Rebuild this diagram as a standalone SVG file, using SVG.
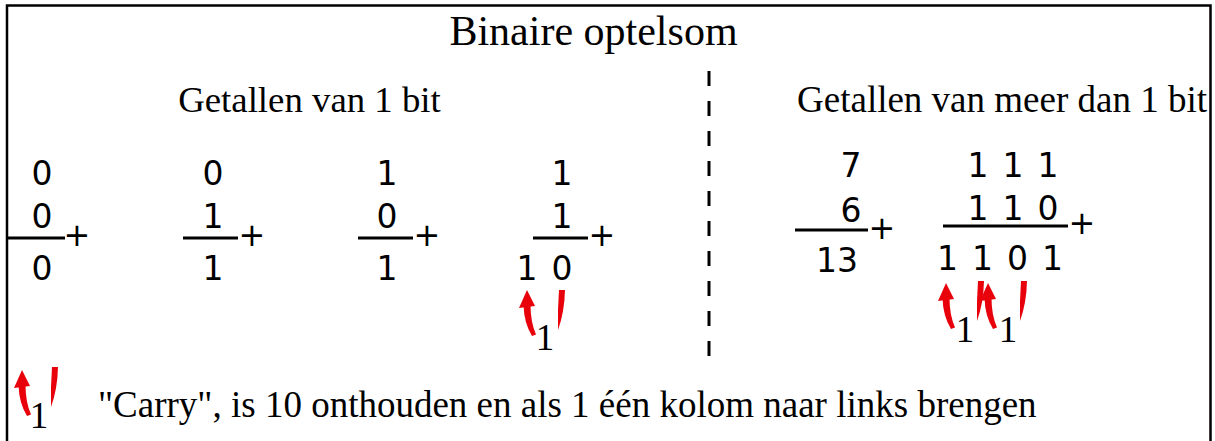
<svg xmlns="http://www.w3.org/2000/svg" width="1215" height="441" viewBox="0 0 1215 441">
<style>
.serif{font-family:"Liberation Serif","Times New Roman",serif;fill:#000}
.d{font-family:"DejaVu Sans",Verdana,sans-serif;font-size:33px;fill:#000;text-anchor:middle}
.ds{word-spacing:3.5px}
.p{font-family:"DejaVu Sans",Verdana,sans-serif;font-size:32px;fill:#000;text-anchor:middle}
.bar{stroke:#000;stroke-width:3;fill:none}
.red{fill:#e8000b}
</style>
<defs>
<g id="arrow">
<polygon class="red" points="0,0 -8,18 8,16"/>
<path class="red" d="M -3.5,15 Q -3,33 5,46 L 9,44.5 Q 3.5,32 3.5,15 Z"/>
</g>
<path id="tick" class="red" d="M -3,0 L 3,0 Q 2.5,22 -4,40 Q -4.5,20 -3,0 Z"/>
</defs>
<rect width="1215" height="441" fill="#fff"/>
<path d="M7,441 V5.5 H1210.5 V441" fill="none" stroke="#000" stroke-width="2.5"/>
<text class="serif" x="593.5" y="45" font-size="42" text-anchor="middle">Binaire optelsom</text>
<text class="serif" x="309.5" y="112" font-size="36.8" text-anchor="middle">Getallen van 1 bit</text>
<text class="serif" x="1002" y="112" font-size="37" text-anchor="middle">Getallen van meer dan 1 bit</text>
<line x1="709" y1="71" x2="709" y2="365" stroke="#000" stroke-width="3" stroke-dasharray="15 15"/>
<g id="sum1">
<text class="d" x="42" y="185">0</text>
<text class="d" x="42" y="228">0</text>
<line class="bar" x1="8" y1="238" x2="65" y2="238"/>
<text class="p" x="77" y="246">+</text>
<text class="d" x="42" y="280">0</text>
</g>
<g id="sum2">
<text class="d" x="213" y="185">0</text>
<text class="d" x="213" y="228">1</text>
<line class="bar" x1="183" y1="238" x2="238" y2="238"/>
<text class="p" x="252" y="246">+</text>
<text class="d" x="213" y="280">1</text>
</g>
<g id="sum3">
<text class="d" x="387" y="185">1</text>
<text class="d" x="387" y="228">0</text>
<line class="bar" x1="358" y1="238" x2="413" y2="238"/>
<text class="p" x="427" y="246">+</text>
<text class="d" x="387" y="280">1</text>
</g>
<g id="sum4">
<text class="d" x="562" y="185">1</text>
<text class="d" x="562" y="228">1</text>
<line class="bar" x1="533" y1="238" x2="588" y2="238"/>
<text class="p" x="602" y="246">+</text>
<text class="d ds" x="544.5" y="280">1 0</text>
<text class="serif" x="545" y="350" font-size="37" text-anchor="middle">1</text>
</g>
<g id="sum-decimal">
<text class="d" x="851" y="177">7</text>
<text class="d" x="851" y="222">6</text>
<line class="bar" x1="795" y1="230" x2="868" y2="230"/>
<text class="p" x="882" y="239">+</text>
<text class="d" x="837" y="272">13</text>
</g>
<g id="sum-binary">
<text class="d ds" x="1013" y="177">1 1 1</text>
<text class="d ds" x="1013" y="220">1 1 0</text>
<line class="bar" x1="943" y1="226" x2="1068" y2="226"/>
<text class="p" x="1082" y="234">+</text>
<text class="d ds" x="1000" y="270">1 1 0 1</text>
<text class="serif" x="965" y="342" font-size="37" text-anchor="middle">1</text>
<text class="serif" x="1008" y="342" font-size="37" text-anchor="middle">1</text>
</g>
<g id="legend">
<text class="serif" x="39" y="428" font-size="37" text-anchor="middle">1</text>
<text class="serif" x="98" y="417" font-size="37">"Carry", is 10 onthouden en als 1 één kolom naar links brengen</text>
</g>
<g id="connectors">
<use href="#arrow" x="527" y="290"/>
<use href="#tick" x="562" y="290"/>
<use href="#arrow" x="946" y="283"/>
<use href="#tick" x="981" y="281"/>
<use href="#arrow" x="988" y="283"/>
<use href="#tick" x="1024" y="281"/>
<use href="#arrow" x="22" y="370"/>
<use href="#tick" x="55" y="367"/>
</g>
</svg>
